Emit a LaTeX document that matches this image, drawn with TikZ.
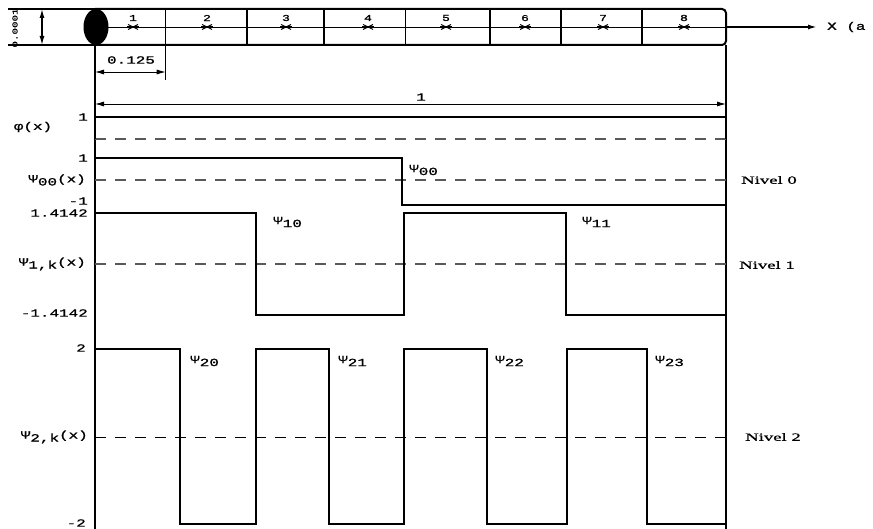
\documentclass[tikz,border=0pt]{standalone}
\usepackage{fontspec}
\setmainfont{Liberation Serif}
\newfontfamily\mono[FakeStretch=1.45,FakeBold=1.2]{Liberation Mono}
\newfontfamily\ser[FakeStretch=1.7,FakeBold=0.8]{Liberation Serif}
\usetikzlibrary{arrows.meta}
\begin{document}
\begin{tikzpicture}[x=1pt,y=-1pt,
  sig/.style={line width=2.4pt},
  ax/.style={line width=1.4pt},
  thin/.style={line width=0.9pt},
  dsh/.style={gray!70!black, line width=1.1pt, dash pattern=on 11pt off 9pt},
  dshk/.style={black, line width=0.9pt, dash pattern=on 11pt off 9pt},
  lbl/.style={font=\mono\fontsize{11}{12}\selectfont, inner sep=0pt},
  small/.style={font=\mono\fontsize{9}{10}\selectfont, inner sep=0pt},
  tiny/.style={font=\mono\fontsize{7.5}{8}\selectfont, inner sep=0pt},
  niv/.style={font=\ser\fontsize{11}{12}\selectfont, anchor=west, inner sep=0pt},
  tip/.style={-{Latex[length=9pt,width=5pt]}},
  dtip/.style={{Latex[length=9pt,width=5pt]}-{Latex[length=9pt,width=5pt]}}
]
\useasboundingbox (0,0) rectangle (873,529);
\fill[white] (0,0) rectangle (873,529);

% ---- top bar ----
\draw[line width=2pt] (8,9) -- (95,9);
\draw[line width=2pt] (8,45) -- (95,45);
\draw[line width=2pt, rounded corners=4pt] (95,9) -- (726,9) -- (726,45) -- (95,45);
\draw[thin] (95,27) -- (726,27);
\foreach \xx in {165.7,247,324,405.7,490,561,642} \draw[line width=1.4pt] (\xx,9) -- (\xx,45);
\fill (96,27) ellipse (12.5 and 18);
\foreach \xx/\n in {133/1,207/2,286/3,368/4,446/5,525/6,603/7,684/8}{
  \node[small] (c\n) at (\xx,18) {\n};
  \draw[line width=0.9pt] (\xx-5,24.5) -- (\xx+5,29.5);
  \draw[line width=0.9pt] (\xx-5,29.5) -- (\xx+5,24.5);
  \draw[line width=1.4pt] (\xx-6,27) -- (\xx+6,27);
}
% 0.0001 dimension
\coordinate (da) at (42,9);
\coordinate (db) at (42,45);
\draw[line width=1.3pt, dtip] (da) -- (db);
\node[tiny, rotate=90] (d1) at (15,28) {0.0001};
% X axis
\coordinate (xa) at (726,27);
\coordinate (xb) at (817,27);
\draw[line width=1.6pt, tip] (xa) -- (xb);
\node[lbl, anchor=west] (xl) at (827,27) {X (a};

% ---- axes ----
\draw[ax] (95,45) -- (95,529);
\draw[ax] (726,45) -- (726,529);

% 0.125 dimension
\draw[thin] (165.7,45) -- (165.7,80);
\coordinate (ea) at (95,72);
\coordinate (eb) at (165.7,72);
\draw[thin, dtip] (ea) -- (eb);
\node[lbl] (e1) at (131,60) {0.125};
% 1 dimension
\coordinate (fa) at (95,104);
\coordinate (fb) at (726,104);
\draw[thin, dtip] (fa) -- (fb);
\node[lbl] (f1) at (421,97) {1};

% ---- phi ----
\draw[dsh] (95,139) -- (726,139);
\draw[line width=1.8pt] (95,117) -- (726,117);
\draw[sig] (95,139) -- (95,116.1);
\draw[sig] (726,139) -- (726,116.1);
\node[lbl, anchor=east] (p1) at (88,117) {1};
\node[lbl] (pl) at (33,127) {φ(x)};

% ---- psi00 ----
\draw[dsh] (95,180) -- (726,180);
\draw[sig] (95,158) -- (402,158) -- (402,205) -- (726,205);
\node[lbl, anchor=east] (q1) at (88,158) {1};
\node[lbl, anchor=east] (q2) at (88,201) {-1};
\node[lbl, anchor=east] (ql) at (86,180) {Ψ\raisebox{-3pt}{00}(x)};
\node[lbl, anchor=west] (qn) at (409,170) {Ψ\raisebox{-3pt}{00}};
\node[niv] (n0) at (741,180) {Nivel 0};

% ---- psi1k ----
\draw[dsh] (95,264) -- (726,264);
\draw[sig] (95,213) -- (256,213) -- (256,315) -- (404,315) -- (404,213) -- (566,213) -- (566,315) -- (726,315);
\node[lbl, anchor=east] (r1) at (88,213) {1.4142};
\node[lbl, anchor=east] (r2) at (88,313) {-1.4142};
\node[lbl, anchor=east] (rl) at (86,264) {Ψ\raisebox{-3pt}{1,k}(x)};
\node[lbl, anchor=west] (r10) at (273,222) {Ψ\raisebox{-3pt}{10}};
\node[lbl, anchor=west] (r11) at (582,222) {Ψ\raisebox{-3pt}{11}};
\node[niv] (n1) at (739,265) {Nivel 1};

% ---- psi2k ----
\draw[dshk] (95,437) -- (726,437);
\draw[sig] (95,349) -- (180,349) -- (180,524) -- (256,524) -- (256,349) -- (329,349) -- (329,524) -- (404,524) -- (404,349) -- (487,349) -- (487,524) -- (567,524) -- (567,349) -- (647,349) -- (647,524) -- (726,524);
\node[lbl, anchor=east] (s1) at (86,348) {2};
\node[lbl, anchor=east] (s2) at (86,523) {-2};
\node[lbl, anchor=east] (sl) at (88,437) {Ψ\raisebox{-3pt}{2,k}(x)};
\node[lbl, anchor=west] (s20) at (190,361) {Ψ\raisebox{-3pt}{20}};
\node[lbl, anchor=west] (s21) at (338,361) {Ψ\raisebox{-3pt}{21}};
\node[lbl, anchor=west] (s22) at (495,361) {Ψ\raisebox{-3pt}{22}};
\node[lbl, anchor=west] (s23) at (655,361) {Ψ\raisebox{-3pt}{23}};
\node[niv] (n2) at (745,437) {Nivel 2};
\end{tikzpicture}
\end{document}
